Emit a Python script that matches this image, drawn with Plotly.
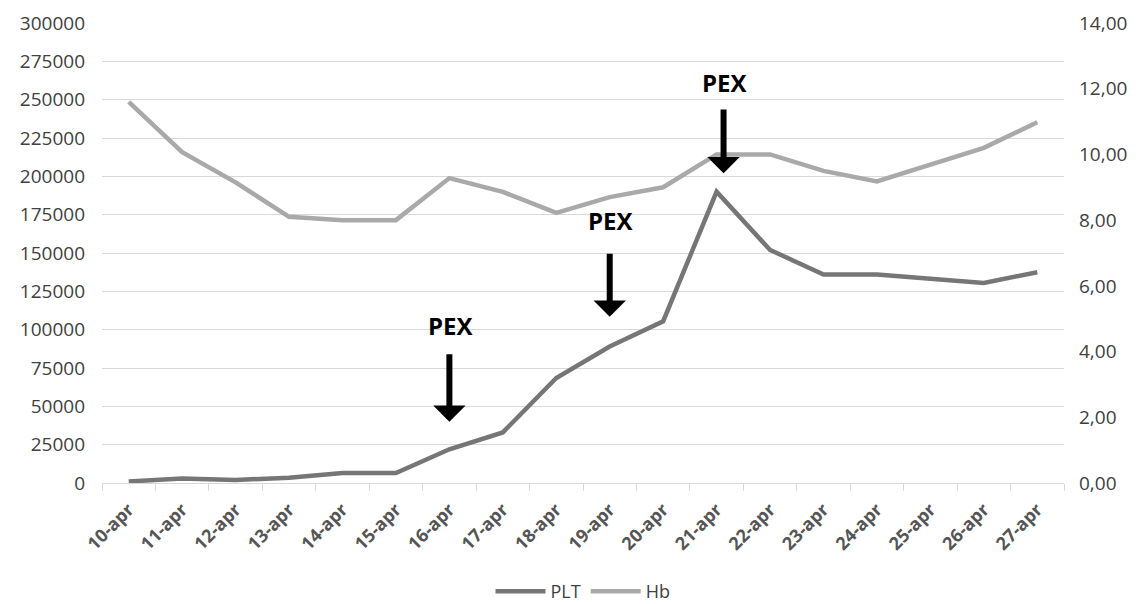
import plotly.graph_objects as go

# ---- data ----
dates = ["10-apr", "11-apr", "12-apr", "13-apr", "14-apr", "15-apr", "16-apr", "17-apr", "18-apr",
         "19-apr", "20-apr", "21-apr", "22-apr", "23-apr", "24-apr", "25-apr", "26-apr", "27-apr"]
plt_values = [1000, 3000, 2000, 3500, 6500, 6500, 22000, 33000, 68500,
              89000, 105500, 190000, 152000, 136000, 136000, 133000, 130500, 137500]
hb_values = [11.6, 10.07, 9.15, 8.1, 8.0, 8.0, 9.28, 8.86, 8.22,
             8.7, 9.0, 10.0, 10.0, 9.5, 9.18, 9.68, 10.2, 10.98]
left_ticks = [0, 25000, 50000, 75000, 100000, 125000, 150000, 175000, 200000, 225000, 250000, 275000, 300000]
right_ticks = [0, 2, 4, 6, 8, 10, 12, 14]
right_tick_labels = ["0,00", "2,00", "4,00", "6,00", "8,00", "10,00", "12,00", "14,00"]
pex_dates = ["16-apr", "19-apr", "21-apr"]

FONT = "Open Sans"
TXT = "#404040"

fig = go.Figure()
fig.add_trace(go.Scatter(x=dates, y=plt_values, name="PLT", mode="lines",
                         line=dict(color="#767676", width=4.5), yaxis="y"))
fig.add_trace(go.Scatter(x=dates, y=hb_values, name="Hb", mode="lines",
                         line=dict(color="#a9a9a9", width=4.5), yaxis="y2"))

# PEX annotations: (index offset, tip y, tail y, text y) in left-axis units
pex_layout = [(0.0, 40000, 85000, 103000), (0.0, 108500, 150500, 171500), (0.13, 202000, 244500, 261500)]
for d, (dx, tip, tail, ty) in zip(pex_dates, pex_layout):
    xi = dates.index(d) + dx
    fig.add_annotation(x=xi, y=tip, ax=xi, ay=tail, xref="x", yref="y", axref="x", ayref="y",
                       text="", showarrow=True, arrowhead=1, arrowsize=0.9, arrowwidth=6,
                       arrowcolor="black")
    fig.add_annotation(x=xi + 0.03, y=ty, xref="x", yref="y", text="<b>PEX</b>", showarrow=False,
                       font=dict(family=FONT, size=24, color="black"))

# the page body has an 8px margin, so the figure is sized to fit inside the window
fig.update_layout(
    width=1130, height=596,
    margin=dict(l=94, r=74, t=15, b=121, autoexpand=False),
    paper_bgcolor="white", plot_bgcolor="white",
    font=dict(family=FONT, color=TXT),
    showlegend=True,
    legend=dict(orientation="h", x=0.5, xanchor="center", y=-0.236, yanchor="middle",
                font=dict(size=18, color=TXT), itemwidth=50),
    xaxis=dict(type="category", range=[-0.5, 17.5], tickangle=-45, showgrid=False, automargin=False,
               ticks="outside", tickson="boundaries", ticklen=7, tickcolor="#d9d9d9",
               showline=True, linecolor="#d9d9d9", linewidth=1, ticklabelstandoff=8,
               tickfont=dict(size=18, color="#555555", family=FONT, weight="bold")),
    yaxis=dict(range=[0, 300000], tickvals=left_ticks, ticktext=[str(v) for v in left_ticks],
               showgrid=True, gridcolor="#d9d9d9", gridwidth=1.3, zeroline=False, automargin=False,
               ticks="", ticklabelstandoff=16, tickfont=dict(size=19, color=TXT)),
    yaxis2=dict(range=[0, 14], overlaying="y", side="right", tickvals=right_ticks, automargin=False,
                ticktext=right_tick_labels, showgrid=False, zeroline=False,
                ticks="", ticklabelstandoff=14, tickfont=dict(size=19, color=TXT)),
)

fig.write_html("out.html")
